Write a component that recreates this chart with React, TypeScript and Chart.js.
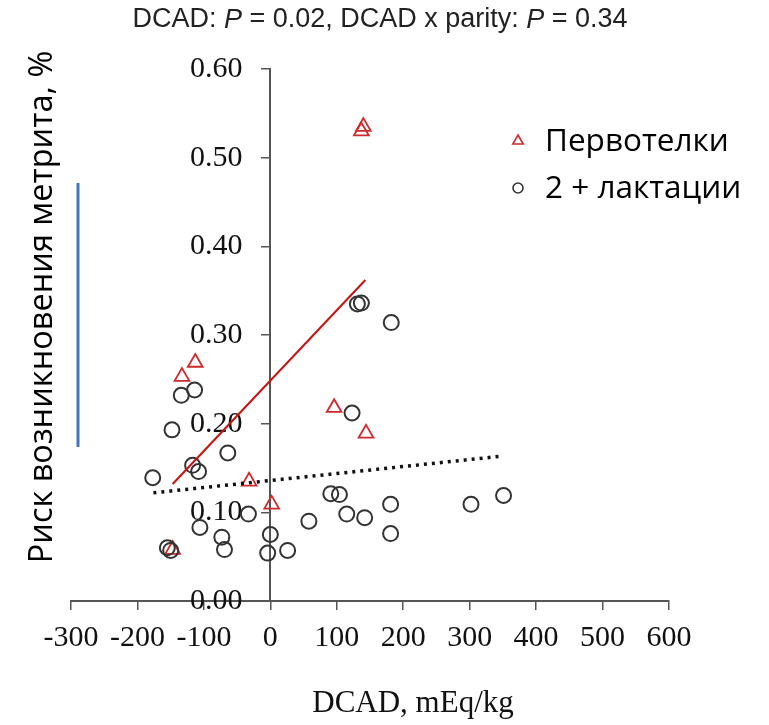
import React, { useEffect, useRef } from "react";
import { Chart, registerables } from "chart.js";

Chart.register(...registerables);

// ---- data ----
const primiparousLabel = "Первотелки";
const primiparousX = [-133, -113, 140, 137, 96, 144, -32, 2, -147];
const primiparousY = [0.253, 0.269, 0.535, 0.53, 0.218, 0.189, 0.135, 0.109, 0.058];

const multiparousLabel = "2 + лактации";
const multiparousX = [131, 137, 182, -114, -134, -148, 123, -64, -117, -108, -177, 91, 104, -33, -106, -73, -69, -155, -150, 0, -4, 26, 58, 115, 142, 181, 181, 302, 351];
const multiparousY = [0.335, 0.336, 0.314, 0.238, 0.232, 0.193, 0.212, 0.167, 0.153, 0.146, 0.139, 0.121, 0.12, 0.098, 0.083, 0.072, 0.058, 0.06, 0.057, 0.075, 0.054, 0.057, 0.09, 0.098, 0.094, 0.109, 0.076, 0.109, 0.119];

const primiFitX = [-147, 143];
const primiFitY = [0.132, 0.362];
const multiFitX = [-176, 350];
const multiFitY = [0.122, 0.1635];

const xMin = -300;
const xMax = 600;
const xStep = 100;
const yMin = 0;
const yMax = 0.6;
const yStep = 0.1;

const titleParts = [
  { text: "DCAD: ", italic: false },
  { text: "P", italic: true },
  { text: " = 0.02, DCAD x parity: ", italic: false },
  { text: "P", italic: true },
  { text: " = 0.34", italic: false },
];
const xTitle = "DCAD, mEq/kg";
const yTitle = "Риск возникновения метрита, %";

const RED = "#d02a2a";
const DARK = "#333333";
const AXIS = "#555555";
const SERIF = '"Liberation Serif", "Times New Roman", serif';
const SANS = '"Open Sans", "Noto Sans", sans-serif';

const zip = (xs: number[], ys: number[]) => xs.map((x, i) => ({ x, y: ys[i] }));

const overlayPlugin = {
  id: "overlayText",
  afterDraw(chart: any) {
    const ctx: CanvasRenderingContext2D = chart.ctx;
    ctx.save();

    // top title with italic P
    const titleFont = (it: boolean) => `${it ? "italic " : ""}27px "Liberation Sans", Arial, sans-serif`;
    let total = 0;
    for (const p of titleParts) {
      ctx.font = titleFont(p.italic);
      total += ctx.measureText(p.text).width;
    }
    let tx = 380 - total / 2;
    ctx.fillStyle = "#222";
    ctx.textBaseline = "middle";
    ctx.textAlign = "left";
    for (const p of titleParts) {
      ctx.font = titleFont(p.italic);
      ctx.fillText(p.text, tx, 20);
      tx += ctx.measureText(p.text).width;
    }

    // x axis title
    ctx.font = `31px ${SERIF}`;
    ctx.textAlign = "center";
    ctx.fillStyle = "#111";
    ctx.fillText(xTitle, 413, 704);

    // y axis title (rotated)
    ctx.save();
    ctx.translate(43, 307);
    ctx.rotate(-Math.PI / 2);
    ctx.font = `32.5px ${SANS}`;
    ctx.fillStyle = "#000";
    ctx.textAlign = "center";
    ctx.fillText(yTitle, 0, 0);
    ctx.restore();

    // decorative blue bar
    ctx.strokeStyle = "#4472c4";
    ctx.lineWidth = 3;
    ctx.beginPath();
    ctx.moveTo(78, 183);
    ctx.lineTo(78, 447);
    ctx.stroke();

    // legend
    const ds = chart.data.datasets
      .filter((d: any) => d.legendOrder !== undefined)
      .sort((a: any, b: any) => a.legendOrder - b.legendOrder);
    ds.forEach((d: any, i: number) => {
      const cy = 141 + i * 47;
      const cx = 518;
      ctx.strokeStyle = d.borderColor;
      ctx.lineWidth = 1.6;
      ctx.beginPath();
      if (d.pointStyle === "triangle") {
        const r = 6;
        ctx.moveTo(cx, cy - r);
        ctx.lineTo(cx + r * 0.87, cy + r * 0.5);
        ctx.lineTo(cx - r * 0.87, cy + r * 0.5);
        ctx.closePath();
      } else {
        ctx.arc(cx, cy, 5, 0, Math.PI * 2);
      }
      ctx.stroke();
      ctx.font = `31.5px ${SANS}`;
      ctx.fillStyle = "#000";
      ctx.textAlign = "left";
      ctx.textBaseline = "middle";
      ctx.fillText(d.label, 545, cy + 1);
    });

    ctx.restore();
  },
};

export default function App() {
  const ref = useRef<HTMLCanvasElement | null>(null);

  useEffect(() => {
    if (!ref.current) return;
    const chart = new Chart(ref.current, {
      type: "scatter",
      data: {
        datasets: [
          {
            type: "line",
            label: "fit1",
            data: zip(primiFitX, primiFitY),
            borderColor: "#cc1111",
            borderWidth: 2,
            pointRadius: 0,
            fill: false,
          } as any,
          {
            type: "line",
            label: "fit2",
            data: zip(multiFitX, multiFitY),
            borderColor: "#111",
            borderWidth: 3.5,
            borderDash: [3, 5],
            pointRadius: 0,
            fill: false,
          } as any,
          {
            label: multiparousLabel,
            data: zip(multiparousX, multiparousY),
            pointStyle: "circle",
            pointRadius: 7.5,
            borderColor: DARK,
            backgroundColor: "rgba(0,0,0,0)",
            pointBorderWidth: 2,
            legendOrder: 1,
          } as any,
          {
            label: primiparousLabel,
            data: zip(primiparousX, primiparousY),
            pointStyle: "triangle",
            pointRadius: 8.5,
            borderColor: RED,
            backgroundColor: "rgba(0,0,0,0)",
            pointBorderWidth: 1.8,
            legendOrder: 0,
          } as any,
        ],
      },
      options: {
        animation: false,
        responsive: false,
        devicePixelRatio: 1,
        layout: { padding: { left: 71, right: 100, top: 69, bottom: 124 } },
        plugins: { legend: { display: false }, tooltip: { enabled: false }, title: { display: false } },
        scales: {
          x: {
            type: "linear",
            position: { y: 0 } as any,
            min: xMin,
            max: xMax,
            grid: { display: true, drawOnChartArea: false, drawTicks: true, tickLength: 8, color: AXIS, lineWidth: 1.5 },
            border: { display: true, color: AXIS, width: 2 },
            ticks: {
              stepSize: xStep,
              padding: 11,
              color: "#111",
              font: { family: SERIF, size: 30 },
              maxRotation: 0,
              autoSkip: false,
            },
          },
          y: {
            type: "linear",
            position: { x: 0 } as any,
            min: yMin,
            max: yMax,
            grid: { display: true, drawOnChartArea: false, drawTicks: true, tickLength: 8, color: AXIS, lineWidth: 1.5 },
            border: { display: true, color: AXIS, width: 2 },
            ticks: { display: false, stepSize: yStep },
          },
          yLabels: {
            type: "linear",
            axis: "y",
            position: { x: -42 } as any,
            min: yMin,
            max: yMax,
            grid: { display: false },
            border: { display: false },
            ticks: {
              stepSize: yStep,
              color: "#111",
              font: { family: SERIF, size: 30 },
              callback: (v: any) => Number(v).toFixed(2),
              autoSkip: false,
            },
          },
        },
      } as any,
      plugins: [overlayPlugin],
    });
    return () => chart.destroy();
  }, []);

  return (
    <div style={{ position: "absolute", left: 0, top: 0, width: 769, height: 725, background: "#fff" }}>
      <canvas ref={ref} width={769} height={725} style={{ width: 769, height: 725 }} />
    </div>
  );
}
